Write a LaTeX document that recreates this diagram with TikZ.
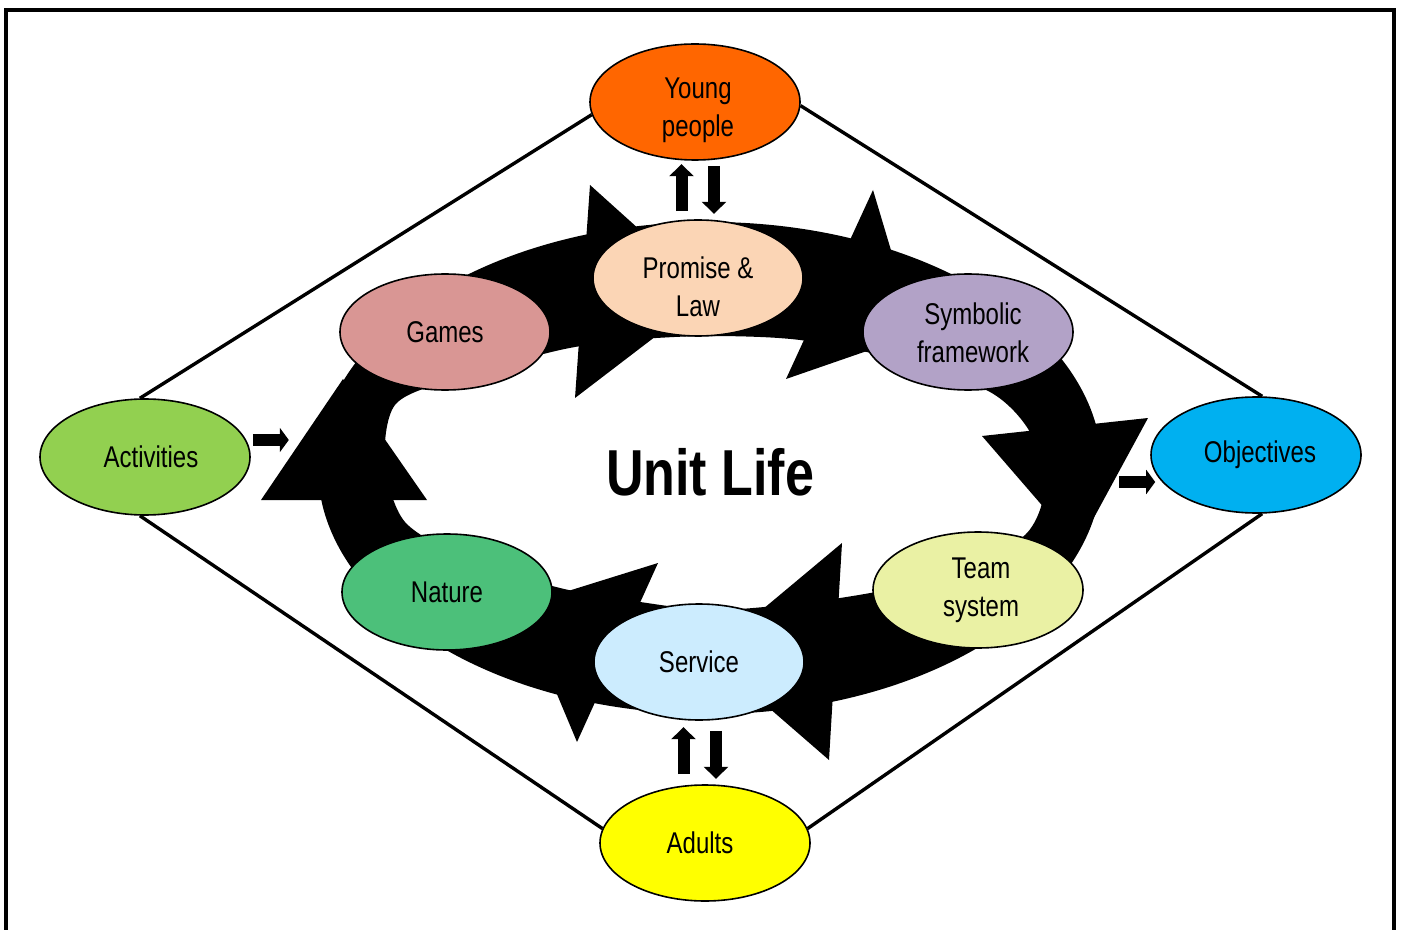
\documentclass[tikz,border=0pt]{standalone}
\usepackage{fontspec}
\setmainfont{Liberation Sans}[FakeStretch=0.8]
\usetikzlibrary{shapes.geometric,arrows.meta}
\definecolor{youngc}{HTML}{FF6600}
\definecolor{promc}{HTML}{FBD5B5}
\definecolor{gamesc}{HTML}{D99694}
\definecolor{symbc}{HTML}{B2A2C7}
\definecolor{actc}{HTML}{92D050}
\definecolor{objc}{HTML}{00B0F0}
\definecolor{naturec}{HTML}{4CC07A}
\definecolor{teamc}{HTML}{EAF1A4}
\definecolor{servc}{HTML}{CCECFE}
\definecolor{adultc}{HTML}{FFFF00}
\newcommand\twolines[3]{\raisebox{#1}[\height][\depth]{\begin{tabular}{@{}c@{}}#2\\#3\end{tabular}}}
\begin{document}
\begin{tikzpicture}[x=0.5pt,y=-0.5pt]
	\tikzset{topic/.style = {shape=ellipse,draw,line width=0.8pt,minimum width=105pt,minimum height=58pt,inner sep=0pt,align=center,font=\fontsize{15}{19}\selectfont}}
	\tikzset{frame/.style = {line width=1.8pt}}
	\tikzset{side/.style = {line width=1.7pt}}
	\tikzset{blk/.style = {-{Triangle[length=6pt,width=12pt]},line width=6pt}}
	\tikzset{blkh/.style = {-{Triangle[length=4.5pt,width=12pt]},line width=6pt}}
	\useasboundingbox (0,0) rectangle (1402,930);
	\draw[frame] (6,930) -- (6,10) -- (1394,10) -- (1394,930);
	% the big cycle
	\fill[even odd rule] (710,468) ellipse [x radius=392,y radius=246]
		plot[smooth cycle] coordinates {(710,336) (800,340) (900,360) (990,392) (1030,432) (1045,485) (1025,535) (950,575) (840,598) (720,610) (640,602) (560,588) (470,560) (405,522) (385,462) (395,405) (450,380) (560,350) (630,340)};
	\fill (590,185) -- (711,294) -- (575,398) -- cycle;
	\fill (873,190) -- (916,334) -- (786,379) -- cycle;
	\fill (982,436) -- (1148,418) -- (1078,547) -- cycle;
	\fill (842,543) -- (829,760) -- (708,655) -- cycle;
	\fill (658,563) -- (577,742) -- (520,606) -- cycle;
	\fill (261,500) -- (427,500) -- (343,379) -- cycle;
	% ellipses
	\node[topic,fill=youngc] (young) at (695,102) {\twolines{-4pt}{\hspace*{3pt}Young}{\hspace*{3pt}people}};
	\node[topic,fill=promc] (prom) at (698,278) {\twolines{-6pt}{Promise \&}{Law}};
	\node[topic,fill=gamesc] (games) at (445,332) {Games};
	\node[topic,fill=symbc] (symb) at (968,332) {\twolines{-2pt}{\hspace*{5pt}Symbolic}{\hspace*{5pt}framework}};
	\node[topic,fill=actc] (act) at (145,457) {\hspace*{6pt}Activities};
	\node[topic,fill=objc] (obj) at (1256,455) {\hspace*{4pt}Objectives};
	\node[topic,fill=naturec] (nature) at (447,592) {Nature};
	\node[topic,fill=teamc] (team) at (978,590) {\twolines{0pt}{\hspace*{3pt}Team}{\hspace*{3pt}system}};
	\node[topic,fill=servc] (serv) at (699,662) {Service};
	\node[topic,fill=adultc] (adults) at (705,843) {Adults\hspace*{5pt}};
	\node[font=\bfseries\fontsize{32.5}{36}\selectfont] (unit) at (710,472) {Unit Life};
	% outer diamond
	\path[draw,side] (young.187) edge (act.95);
	\path[draw,side] (young.358) edge (obj.84);
	\path[draw,side] (act.265) edge (adults.172);
	\path[draw,side] (obj.276) edge (adults.8);
	% small arrows
	\draw[blk] ([xshift=-8.25pt,yshift=4pt]prom.north) -- ++(0,23.5pt);
	\draw[blk] ([xshift=9.5pt,yshift=-2.5pt]young.south) -- ++(0,-24pt);
	\draw[blk] ([xshift=-10.75pt,yshift=5pt]adults.north) -- ++(0,23.5pt);
	\draw[blk] ([xshift=8.5pt,yshift=-5pt]serv.south) -- ++(0,-24pt);
	\draw[blkh] ([xshift=1pt,yshift=8.5pt]act.east) -- ++(18pt,0);
	\draw[blkh] ([xshift=-15.5pt,yshift=-13.5pt]obj.west) -- ++(18pt,0);
\end{tikzpicture}
\end{document}
